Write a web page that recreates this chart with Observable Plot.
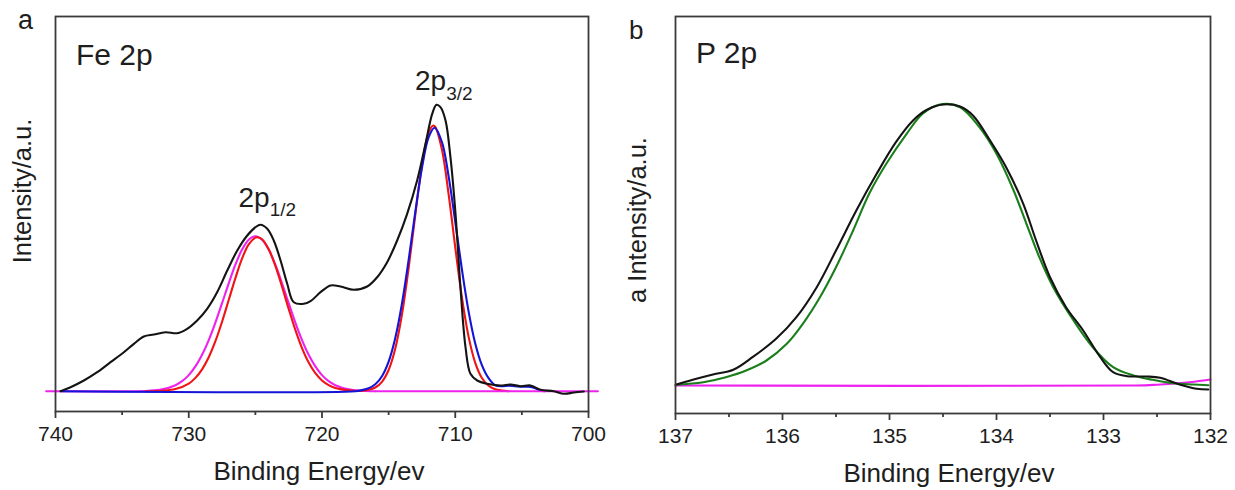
<!DOCTYPE html>
<html>
<head>
<meta charset="utf-8">
<script src="https://cdn.jsdelivr.net/npm/d3@7"></script>
<script src="https://cdn.jsdelivr.net/npm/@observablehq/plot@0.6"></script>
<style>
  html, body { margin: 0; padding: 0; background: #fff; }
  #wrap { position: relative; width: 1235px; height: 490px; overflow: hidden; font-family: "Liberation Sans", Arial, sans-serif; }
  #pa { position: absolute; left: 0; top: 0; }
  #pb { position: absolute; left: 620px; top: 0; }
  #labels { position: absolute; left: 0; top: 0; pointer-events: none; }
  #labels text { font-family: "Liberation Sans", Arial, sans-serif; fill: #1e1e1e; }
</style>
</head>
<body>
<div id="wrap">
  <div id="pa"></div>
  <div id="pb"></div>
  <svg id="labels" width="1235" height="490" viewBox="0 0 1235 490">
    <text x="18" y="29" font-size="27">a</text>
    <text x="76" y="65" font-size="30">Fe 2p</text>
    <text x="415" y="90" font-size="28">2p<tspan font-size="19" dy="10">3/2</tspan></text>
    <text x="238.5" y="206.5" font-size="28">2p<tspan font-size="19" dy="9.5">1/2</tspan></text>
    <text transform="translate(31,191) rotate(-90)" text-anchor="middle" font-size="25.5">Intensity/a.u.</text>
    <text x="319" y="480" text-anchor="middle" font-size="26">Binding Energy/ev</text>
    <text x="629" y="39" font-size="26">b</text>
    <text x="696" y="62.5" font-size="30">P 2p</text>
    <text transform="translate(646,220) rotate(-90)" text-anchor="middle" font-size="25.5">a Intensity/a.u.</text>
    <text x="949" y="481.5" text-anchor="middle" font-size="26">Binding Energy/ev</text>
  </svg>
</div>
<script>
// ---------- Panel a : Fe 2p ----------
const feMajorTicks = [740, 730, 720, 710, 700];
const feMinorTicks = [735, 725, 715, 705];

// measured spectrum (black)
const feRawBE = [739.62, 738.87, 737.87, 736.87, 735.87, 734.87, 734.12, 733.37, 732.62, 731.74, 730.87, 730.12, 729.37, 728.62, 727.87, 727.11, 726.36, 725.61, 724.99, 724.62, 724.11, 723.62, 723.11, 722.61, 722.12, 721.37, 720.86, 720.11, 719.36, 718.61, 717.61, 716.61, 715.86, 715.11, 714.36, 713.61, 712.86, 712.23, 711.73, 711.41, 711.11, 710.73, 710.36, 709.98, 709.61, 709.23, 708.86, 708.35, 707.60, 706.60, 705.85, 705.10, 704.35, 703.60, 702.60, 701.85, 701.10, 700.35];
const feRawI = [0, 4, 10.7, 19, 29, 39, 47.4, 54.7, 56.7, 59, 58, 62.4, 70.7, 82.4, 99, 120.7, 140.7, 155.7, 164, 166.4, 162.4, 150.7, 130.7, 107.4, 89, 87.4, 90, 99, 105.7, 104.7, 101.4, 104.7, 114, 129, 150.7, 177.4, 210.7, 247.4, 277.4, 286.4, 284, 270.7, 234, 177.4, 104, 44, 17.4, 10.7, 7.4, 5.7, 6.7, 5, 5.7, 1.4, 0, -2.6, -1.3, -0.3];

// red fit (2p1/2 and 2p3/2 components)
const feRedBE = [733.2, 732.0, 731.0, 730.0, 729.5, 729.0, 728.5, 728.0, 727.5, 727.0, 726.5, 726.0, 725.5, 725.0, 724.85, 724.5, 724.0, 723.5, 723.0, 722.5, 722.0, 721.5, 721.0, 720.5, 720.0, 719.5, 719.0, 718.0, 717.0, 716.0, 715.5, 715.0, 714.5, 714.0, 713.5, 713.0, 712.5, 712.0, 711.65, 711.5, 711.0, 710.5, 710.0, 709.5, 709.0, 708.5, 708.0, 707.5, 707.0, 706.5, 706.0];
const feRedI = [0, 0.5, 2.1, 7.6, 13.3, 21.9, 34.0, 50.0, 69.5, 91.2, 113.1, 132.6, 146.8, 153.6, 154, 151.9, 141.9, 125.3, 104.5, 82.3, 61.3, 43.1, 28.6, 18.0, 10.7, 6.0, 3.2, 0.8, 0.4, 3.7, 9.4, 21.2, 42.7, 76.6, 122.9, 176.2, 225.8, 258.5, 265.7, 264.4, 241.6, 197.2, 143.9, 93.8, 54.6, 28.4, 13.2, 5.5, 2.0, 0.7, 0];

// magenta fit (2p1/2 component + baseline, left part)
const feMagBE = [740.7, 733.0, 732.0, 731.0, 730.5, 730.0, 729.5, 729.0, 728.5, 728.0, 727.5, 727.0, 726.5, 726.0, 725.5, 725.0, 724.5, 724.0, 723.5, 723.0, 722.5, 722.0, 721.5, 721.0, 720.5, 720.0, 719.5, 719.0, 718.0, 717.0, 716.0];
const feMagI = [0, 0.5, 1.8, 6.0, 10.0, 16.1, 24.8, 36.4, 51.1, 68.6, 88.0, 107.9, 126.5, 141.6, 151.5, 155, 151.5, 141.6, 126.5, 107.9, 88.0, 68.6, 51.1, 36.4, 24.8, 16.1, 10.0, 6.0, 1.8, 0.5, 0];
// magenta baseline, right part
const feBaseBE = [716.0, 699.3];
const feBaseI = [0, 0];

// blue fit (2p3/2 envelope + baseline)
const feBlueBE = [739.6, 717.5, 717.0, 716.5, 716.0, 715.5, 715.0, 714.5, 714.0, 713.5, 713.0, 712.5, 712.0, 711.55, 711.0, 710.5, 710.0, 709.5, 709.0, 708.5, 708.0, 707.5, 707.0, 706.5, 706.0, 705.5, 705.0, 704.5, 704.0, 703.6, 703.3];
const feBlueI = [0, 0, 1.1, 2.9, 6.9, 15.0, 29.6, 53.3, 87.5, 131.0, 179.1, 223.1, 253.8, 263.4, 249.2, 215.1, 169.4, 121.7, 79.8, 47.7, 26.0, 13.0, 5.9, 5.0, 5.5, 5.0, 4.5, 4.5, 3.0, 0.5, 0];

// ---------- Panel b : P 2p ----------
const pMajorTicks = [137, 136, 135, 134, 133, 132];
const pMinorTicks = [136.5, 135.5, 134.5, 133.5, 132.5];

const pRawBE = [136.99, 136.84, 136.65, 136.46, 136.28, 136.06, 135.87, 135.68, 135.50, 135.31, 135.12, 134.94, 134.78, 134.65, 134.50, 134.34, 134.22, 134.06, 133.91, 133.75, 133.63, 133.50, 133.35, 133.19, 133.03, 132.91, 132.78, 132.60, 132.47, 132.29, 132.13, 132.02];
const pRawI = [1, 5.7, 11, 15.7, 28.3, 46.7, 68.3, 98.3, 135, 175, 211.7, 243.3, 265, 275.7, 281, 279, 270, 245, 218.3, 181.7, 145, 108.3, 78.3, 55, 28.3, 13.3, 9.3, 9, 7.7, 1, -3.3, -4];

const pFitBE = [137.0, 136.74, 136.53, 136.34, 136.15, 135.96, 135.81, 135.65, 135.50, 135.34, 135.19, 135.03, 134.84, 134.69, 134.53, 134.34, 134.16, 134.0, 133.84, 133.72, 133.60, 133.47, 133.28, 133.10, 132.91, 132.72, 132.54, 132.35, 132.16, 132.02];
const pFitI = [0.8, 3.3, 8.3, 15, 25, 41.7, 61.7, 88.3, 118.3, 155, 191.7, 221.7, 251.7, 271.7, 281, 278.3, 258.3, 231.7, 195, 161.7, 128.3, 98.3, 65, 38.3, 18.3, 10, 5.7, 2.3, 1, 0.3];

const pBaseBE = [137.0, 132.7, 132.5, 132.3, 132.15, 132.0];
const pBaseI = [0, 0, 0.8, 2.2, 3.8, 6];

// ---------- helpers ----------
const toRows = (xs, ys) => xs.map((x, i) => ({x, y: ys[i]}));
const C = {black: "#141414", red: "#f01414", magenta: "#ee22ee", blue: "#1414d8", green: "#1a7f1a", frame: "#3a3a3a"};

function line(xs, ys, color) {
  return Plot.line(toRows(xs, ys), {x: "x", y: "y", stroke: color, strokeWidth: 2.1, curve: "catmull-rom"});
}

function axes(major, minor) {
  return [
    Plot.axisX({ticks: major, tickSize: 7, tickPadding: 8, fontSize: 21, label: null, tickFormat: d => String(d), strokeWidth: 1.8, stroke: C.frame}),
    Plot.axisX({ticks: minor, tickSize: 4, tickFormat: () => "", label: null, strokeWidth: 1.8, stroke: C.frame}),
    Plot.frame({stroke: C.frame, strokeWidth: 1.8})
  ];
}

const baseStyle = {background: "transparent", fontFamily: "'Liberation Sans', Arial, sans-serif", color: "#1e1e1e", overflow: "visible"};

const plotA = Plot.plot({
  width: 620, height: 490,
  marginLeft: 55, marginRight: 32, marginTop: 16, marginBottom: 79,
  x: {domain: [740, 700]},
  y: {domain: [-20.3, 374.7], axis: null},
  style: baseStyle,
  marks: [
    line(feMagBE, feMagI, C.magenta),
    line(feRedBE, feRedI, C.red),
    line(feBlueBE, feBlueI, C.blue),
    line(feBaseBE, feBaseI, C.magenta),
    line(feRawBE, feRawI, C.black),
    ...axes(feMajorTicks, feMinorTicks)
  ]
});

const plotB = Plot.plot({
  width: 615, height: 490,
  marginLeft: 55, marginRight: 25, marginTop: 16, marginBottom: 77,
  x: {domain: [137, 132]},
  y: {domain: [-28, 369], axis: null},
  style: baseStyle,
  marks: [
    line(pBaseBE, pBaseI, C.magenta),
    line(pFitBE, pFitI, C.green),
    line(pRawBE, pRawI, C.black),
    ...axes(pMajorTicks, pMinorTicks)
  ]
});

document.getElementById("pa").appendChild(plotA);
document.getElementById("pb").appendChild(plotB);
</script>
</body>
</html>
